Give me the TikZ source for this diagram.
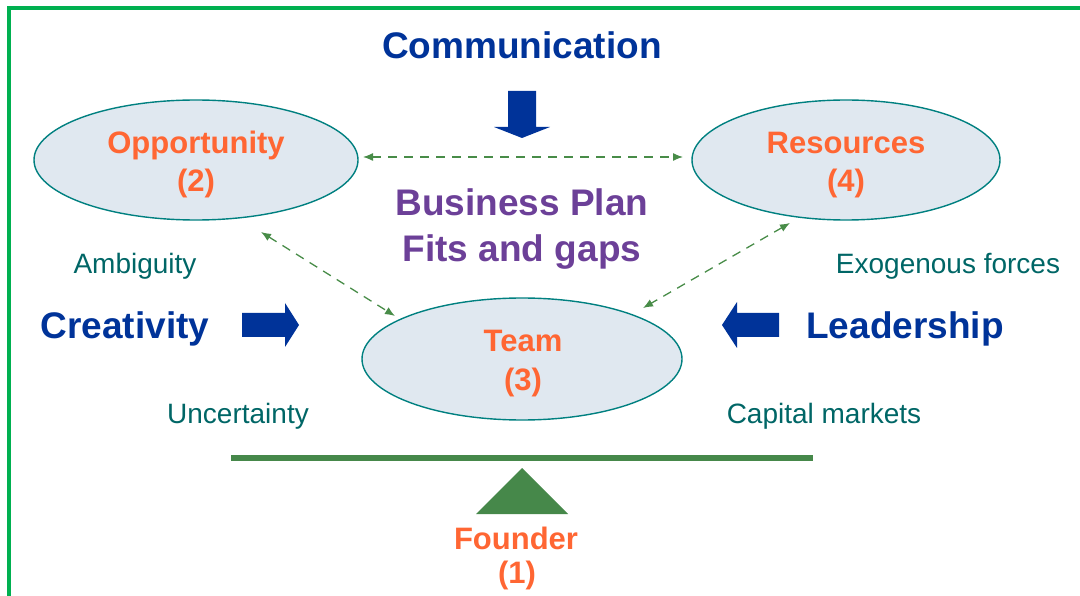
\documentclass[tikz,border=0pt]{standalone}
\usepackage{fontspec}
\setmainfont{Liberation Sans}
\usetikzlibrary{shapes.geometric,arrows.meta}

\definecolor{framegreen}{RGB}{0,176,80}
\definecolor{navy}{RGB}{0,51,153}
\definecolor{accent}{RGB}{255,102,51}
\definecolor{plum}{RGB}{108,64,152}
\definecolor{tealtext}{RGB}{0,102,102}
\definecolor{linkgreen}{RGB}{72,140,72}
\definecolor{basegreen}{RGB}{70,136,74}
\definecolor{ovalfill}{RGB}{224,232,240}
\definecolor{ovaledge}{RGB}{0,128,128}

\tikzset{
  oval/.style={ellipse, draw=ovaledge, line width=1.4pt, fill=ovalfill, inner sep=0pt},
  headline/.style={anchor=base, text=navy, font=\bfseries\fontsize{37}{40}\selectfont},
  plantext/.style={anchor=base, text=plum, font=\bfseries\fontsize{37}{40}\selectfont},
  ovaltext/.style={anchor=base, text=accent, font=\bfseries\fontsize{31}{34}\selectfont},
  forcetext/.style={anchor=base, text=tealtext, font=\fontsize{28}{30}\selectfont},
  link/.style={draw=linkgreen, line width=1.3pt, dash pattern=on 9pt off 7pt,
    {Latex[length=10pt,width=8pt]}-{Latex[length=10pt,width=8pt]}},
  blockarrow/.style={fill=navy}
}

\begin{document}
\begin{tikzpicture}[x=1pt,y=-1pt]
\useasboundingbox (0,0) rectangle (1080,596);

% frame: left and top edges only
\draw[framegreen, line width=3.5pt] (9,596) -- (9,8) -- (1080,8);

% the three ovals
\node[oval, minimum width=324pt, minimum height=120pt] (opp) at (196,160) {};
\node[oval, minimum width=308pt, minimum height=120pt] (res) at (846,160) {};
\node[oval, minimum width=320pt, minimum height=122pt] (team) at (522,359) {};

% oval labels
\node[ovaltext] (oppname) at (196,154) {Opportunity};
\node[ovaltext] (oppnum)  at (196,192) {(2)};
\node[ovaltext] (resname) at (846,154) {Resources};
\node[ovaltext] (resnum)  at (846,192) {(4)};
\node[ovaltext] (teamname) at (523,352) {Team};
\node[ovaltext] (teamnum)  at (523,390) {(3)};

% headings
\node[headline] (comm) at (522,59) {Communication};
\node[headline] (creat) at (125,339) {Creativity};
\node[headline] (lead) at (905,339) {Leadership};
\node[plantext] (plan1) at (522,216) {Business Plan};
\node[plantext] (plan2) at (522,262) {Fits and gaps};

% outside forces
\node[forcetext] (amb) at (135,274) {Ambiguity};
\node[forcetext] (exo) at (948,274) {Exogenous forces};
\node[forcetext] (unc) at (238,423) {Uncertainty};
\node[forcetext] (cap) at (824,423) {Capital markets};

% dashed fit links between the ovals
\coordinate (oppR) at (363,157);
\coordinate (resL) at (683,157);
\coordinate (oppB) at (261,232);
\coordinate (teamL) at (395,316);
\coordinate (resB) at (790,223);
\coordinate (teamR) at (643,308);
\draw[link] (oppR) -- (resL);
\draw[link] (oppB) -- (teamL);
\draw[link] (resB) -- (teamR);

% block arrows
\fill[blockarrow] (508,91) -- (536,91) -- (536,127) -- (550,127) -- (522,138)
  -- (494,127) -- (508,127) -- cycle;
\fill[blockarrow] (242,313) -- (285,313) -- (285,303) -- (299,325) -- (285,347)
  -- (285,337) -- (242,337) -- cycle;
\fill[blockarrow] (779,313) -- (737,313) -- (737,302) -- (722,325) -- (737,348)
  -- (737,337) -- (779,337) -- cycle;

% balance beam and fulcrum
\draw[basegreen, line width=5.5pt] (231,458) -- (813,458);
\fill[basegreen] (476,514) -- (522,468) -- (568,514) -- cycle;
\node[ovaltext] (founder) at (516,549) {Founder};
\node[ovaltext] (foundnum) at (517,583) {(1)};
\end{tikzpicture}
\end{document}
